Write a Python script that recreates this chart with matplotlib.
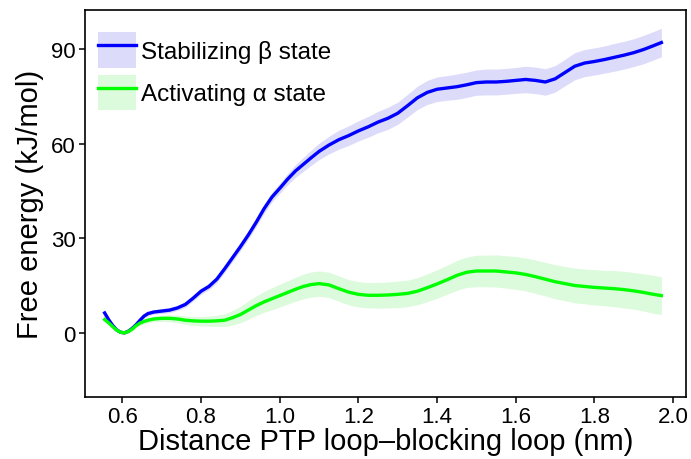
import numpy as np
import matplotlib.pyplot as plt
from matplotlib.patches import Patch
from matplotlib.lines import Line2D

plt.rcParams['font.family'] = ['Liberation Sans', 'DejaVu Sans']

# distance grid (nm)
dist = [0.555, 0.565, 0.575, 0.585, 0.595, 0.605, 0.615, 0.625, 0.635, 0.645, 0.655, 0.665,
        0.68, 0.70, 0.72, 0.74, 0.76, 0.78, 0.80, 0.82, 0.84, 0.86, 0.88,
        0.90, 0.92, 0.94, 0.96, 0.98, 1.00, 1.02, 1.04, 1.06, 1.08, 1.10,
        1.125, 1.150, 1.175, 1.200, 1.225, 1.250, 1.275, 1.300, 1.325, 1.350,
        1.375, 1.400, 1.425, 1.450, 1.475, 1.500, 1.525, 1.550, 1.575, 1.600,
        1.625, 1.650, 1.675, 1.700, 1.725, 1.750, 1.775, 1.800, 1.825, 1.850,
        1.875, 1.900, 1.925, 1.950, 1.970]

# free energy profiles and their errors (kJ/mol)
beta_fe = [6.3, 4.2, 2.4, 1.0, 0.2, 0.0, 0.5, 1.4, 2.6, 4.0, 5.3, 6.1,
           6.6, 6.9, 7.2, 7.9, 9.0, 11.0, 13.2, 14.7, 17.0, 20.3, 23.8,
           27.3, 31.0, 35.0, 39.3, 43.0, 45.8, 48.7, 51.3, 53.4, 55.5, 57.5,
           59.5, 61.2, 62.5, 64.0, 65.3, 66.8, 68.0, 69.6, 72.0, 74.5,
           76.2, 77.2, 77.6, 78.0, 78.6, 79.3, 79.5, 79.5, 79.7, 80.0,
           80.3, 80.0, 79.5, 80.5, 82.5, 84.5, 85.5, 86.0, 86.6, 87.3,
           88.0, 88.8, 89.8, 91.0, 92.0]
beta_err = [0.5, 0.5, 0.5, 0.5, 0.5, 0.5, 0.5, 0.6, 0.6, 0.6, 0.7, 0.7,
            0.7, 0.8, 0.8, 0.8, 0.9, 0.9, 1.0, 1.0, 1.1, 1.1, 1.2,
            1.3, 1.3, 1.4, 1.4, 1.5, 1.6, 1.8, 2.0, 2.2, 2.4, 2.6,
            2.8, 3.0, 3.1, 3.2, 3.3, 3.4, 3.5, 3.5, 3.6, 3.7,
            3.8, 3.9, 3.9, 4.0, 4.0, 4.0, 4.1, 4.1, 4.1, 4.1,
            4.2, 4.2, 4.2, 4.2, 4.2, 4.3, 4.3, 4.3, 4.3, 4.4,
            4.4, 4.4, 4.5, 4.5, 4.5]

alpha_fe = [4.2, 3.2, 2.0, 0.9, 0.2, 0.0, 0.4, 1.2, 2.3, 3.1, 3.6, 4.0,
            4.4, 4.6, 4.6, 4.4, 4.0, 3.8, 3.7, 3.7, 3.8, 4.0, 4.8,
            5.8, 7.2, 8.6, 9.8, 10.8, 11.8, 12.8, 13.8, 14.7, 15.3, 15.6,
            15.2, 14.0, 12.9, 12.2, 11.9, 11.9, 12.0, 12.2, 12.5, 13.2,
            14.3, 15.5, 16.8, 18.2, 19.2, 19.6, 19.6, 19.6, 19.3, 19.0,
            18.5, 17.8, 17.0, 16.2, 15.6, 15.0, 14.7, 14.4, 14.2, 14.0,
            13.7, 13.3, 12.8, 12.2, 11.8]
alpha_err = [0.5, 0.5, 0.5, 0.5, 0.5, 0.5, 0.6, 0.6, 0.7, 0.7, 0.8, 0.8,
             0.9, 1.0, 1.1, 1.2, 1.3, 1.4, 1.5, 1.6, 1.8, 2.0, 2.3,
             2.6, 2.9, 3.1, 3.3, 3.5, 3.6, 3.7, 3.8, 3.9, 4.0, 4.0,
             4.0, 4.0, 4.0, 4.0, 4.0, 4.1, 4.1, 4.2, 4.2, 4.3,
             4.4, 4.5, 4.6, 4.7, 4.8, 5.0, 5.0, 5.1, 5.1, 5.2,
             5.2, 5.3, 5.3, 5.4, 5.4, 5.5, 5.5, 5.6, 5.6, 5.7,
             5.8, 5.8, 5.9, 6.0, 6.0]

xticks = [0.6, 0.8, 1.0, 1.2, 1.4, 1.6, 1.8, 2.0]
yticks = [0, 30, 60, 90]
labels = ['Stabilizing \u03b2 state', 'Activating \u03b1 state']

blue, blue_fill = '#0000ff', '#dcdcfa'
green, green_fill = '#00ff00', '#dcfadc'

x = np.array(dist)
fig = plt.figure(figsize=(6.91, 4.60), dpi=100)
ax = fig.add_axes([0.123, 0.135, 0.870, 0.841])

# error ribbons first, then the profiles on top
for fe, err, fc in [(beta_fe, beta_err, blue_fill), (alpha_fe, alpha_err, green_fill)]:
    fe, err = np.array(fe), np.array(err)
    ax.fill_between(x, fe - err, fe + err, color=fc, lw=0, zorder=1)
for fe, lc in [(beta_fe, blue), (alpha_fe, green)]:
    ax.plot(x, fe, color=lc, lw=2.4, zorder=3)

ax.set_xlim(0.505, 2.033)
ax.set_ylim(-20.3, 102.3)
ax.set_xticks(xticks)
ax.set_xticklabels([f'{t:.1f}' for t in xticks])
ax.set_yticks(yticks)
ax.tick_params(direction='out', length=4, width=1.1, labelsize=16,
               colors='black', pad=2.5)
for s in ax.spines.values():
    s.set_linewidth(1.2)

ax.set_xlabel('Distance PTP loop\u2013blocking loop (nm)', fontsize=21, labelpad=0)
ax.set_ylabel('Free energy (kJ/mol)', fontsize=21, labelpad=5)

handles = [(Patch(facecolor=blue_fill, edgecolor='none'), Line2D([], [], color=blue, lw=2.4)),
           (Patch(facecolor=green_fill, edgecolor='none'), Line2D([], [], color=green, lw=2.4))]
ax.legend(handles, labels, loc='upper left', bbox_to_anchor=(0.0216, 0.942),
          frameon=False, fontsize=17.5, handlelength=1.56, handleheight=1.85,
          handletextpad=0.2, labelspacing=0.3, borderpad=0, borderaxespad=0)

fig.savefig('out.png', dpi=100)
